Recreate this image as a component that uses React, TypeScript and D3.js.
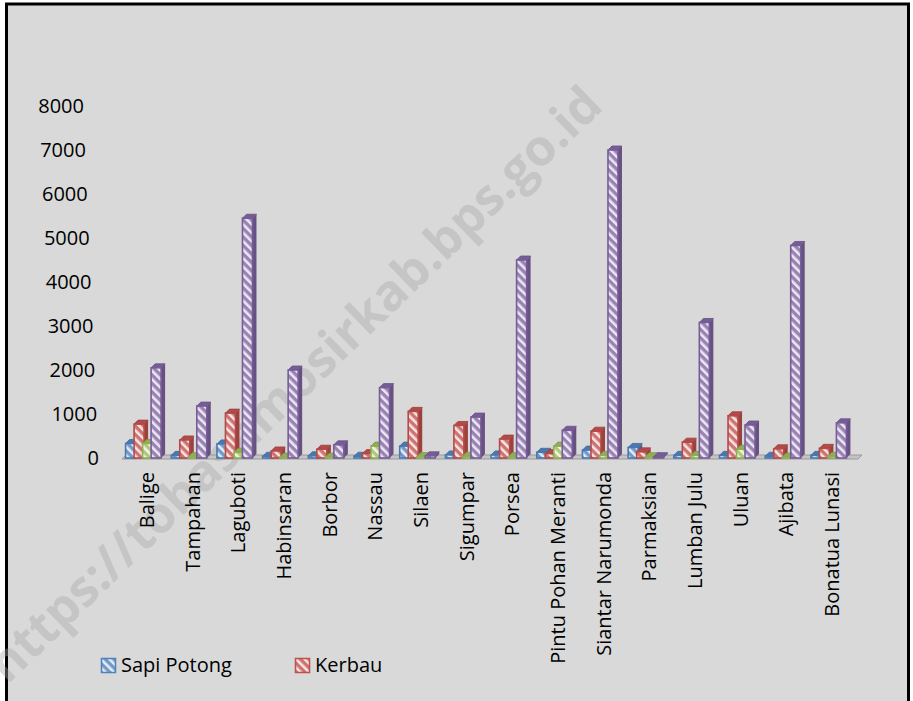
import * as d3 from 'd3';

const categories = [
  'Balige', 'Tampahan', 'Laguboti', 'Habinsaran', 'Borbor', 'Nassau', 'Silaen', 'Sigumpar',
  'Porsea', 'Pintu Pohan Meranti', 'Siantar Narumonda', 'Parmaksian', 'Lumban Julu', 'Uluan',
  'Ajibata', 'Bonatua Lunasi',
];
const sapiPotong = [330, 60, 320, 40, 50, 40, 270, 70, 70, 130, 180, 240, 60, 60, 40, 60];
const kerbau = [770, 410, 1020, 160, 200, 100, 1060, 740, 430, 100, 610, 140, 360, 960, 210, 220];
const kuda = [330, 30, 130, 20, 20, 270, 30, 40, 30, 270, 60, 30, 60, 200, 20, 40];
const babi = [2050, 1180, 5450, 2000, 300, 1600, 50, 930, 4500, 630, 7000, 30, 3080, 750, 4830, 800];
const yTicks = [0, 1000, 2000, 3000, 4000, 5000, 6000, 7000, 8000];

const seriesValues = [sapiPotong, kerbau, kuda, babi];
const colors = ['#4f81bd', '#c0504d', '#9bbb59', '#8064a2'];
const legendNames = ['Sapi Potong', 'Kerbau'];

const W = 913;
const H = 701;
const FONT = '"Open Sans", "DejaVu Sans", sans-serif';

export default function App() {
  const x = d3.scalePoint<string>().domain(categories).range([124, 855]).padding(0.5);
  const y = d3.scaleLinear().domain([0, 8000]).range([458, 106]);
  // the 3D axis leans slightly: labels shift left as they go up
  const labelX = d3.scaleLinear().domain([0, 8000]).range([99, 84]);
  const y0 = y(0);
  const barW = 10;
  const step = 8.5;
  const depth = 4;

  return (
    <svg
      width={W}
      height={H}
      style={{ position: 'absolute', left: 0, top: 0, background: '#fff' }}
    >
      <defs>
        {colors.map((c, i) => {
          const light = d3.interpolateRgb(c, '#ffffff')(0.2);
          return (
            <pattern
              key={i}
              id={`hatch${i}`}
              width={6}
              height={6}
              patternUnits="userSpaceOnUse"
              patternTransform="rotate(-45)"
            >
              <rect width={6} height={6} fill={light} />
              <rect width={2.6} height={6} fill={d3.interpolateRgb(c, '#ffffff')(0.85)} />
            </pattern>
          );
        })}
      </defs>

      <rect x={6.5} y={4} width={902} height={720} fill="#d9d9d9" stroke="#000" strokeWidth={3} />

      {/* watermark */}
      <text
        transform="translate(294,384) rotate(-44)"
        textAnchor="middle"
        dy="0.35em"
        fontFamily={FONT}
        fontWeight="bold"
        fontSize={50}
        fill="#a8a8a8"
        fillOpacity={0.4}
      >
        https://tobasamosirkab.bps.go.id
      </text>

      {/* floor */}
      <polygon
        points={`122,${y0 + 1} 858,${y0 + 1} 862,${y0 - 3} 126,${y0 - 3}`}
        fill="#c4c4c4"
        stroke="#9a9a9a"
        strokeWidth={1}
      />

      {/* y axis labels */}
      {yTicks.map((t) => (
        <text
          key={t}
          x={labelX(t)}
          y={y(t)}
          dy="0.35em"
          textAnchor="end"
          fontFamily={FONT}
          fontSize={20}
          fill="#000"
        >
          {t}
        </text>
      ))}

      {/* bars */}
      {categories.map((cat, ci) => {
        const cx = (x(cat) ?? 0) - 1.5;
        const gx = cx - (step * 3 + barW + depth) / 2;
        return (
          <g key={cat}>
            {seriesValues.map((vals, si) => {
              const bx = gx + si * step;
              const by = y(vals[ci]);
              const dark = d3.color(colors[si])!.darker(0.6).toString();
              const mid = d3.color(colors[si])!.darker(0.2).toString();
              return (
                <g key={si}>
                  <polygon
                    points={`${bx + barW},${by} ${bx + barW + depth},${by - depth} ${bx + barW + depth},${y0 - depth} ${bx + barW},${y0}`}
                    fill={dark}
                  />
                  <polygon
                    points={`${bx},${by} ${bx + depth},${by - depth} ${bx + barW + depth},${by - depth} ${bx + barW},${by}`}
                    fill={mid}
                    stroke={dark}
                    strokeWidth={0.8}
                  />
                  <rect
                    x={bx}
                    y={by}
                    width={barW}
                    height={y0 - by}
                    fill={`url(#hatch${si})`}
                    stroke={mid}
                    strokeWidth={1.6}
                  />
                </g>
              );
            })}
          </g>
        );
      })}

      {/* category labels */}
      {categories.map((cat) => (
        <text
          key={cat}
          transform={`translate(${x(cat)},472) rotate(-90)`}
          textAnchor="end"
          dy="0.35em"
          fontFamily={FONT}
          fontSize={20}
          fill="#000"
        >
          {cat}
        </text>
      ))}

      {/* legend */}
      {legendNames.map((name, i) => {
        const lx = [101, 295][i];
        return (
          <g key={name}>
            <rect x={lx + 0.5} y={658.5} width={14} height={14} fill={`url(#hatch${i})`} stroke={colors[i]} strokeWidth={1.5} />
            <text x={lx + 20} y={665} dy="0.35em" fontFamily={FONT} fontSize={20} fill="#000">
              {name}
            </text>
          </g>
        );
      })}
    </svg>
  );
}
